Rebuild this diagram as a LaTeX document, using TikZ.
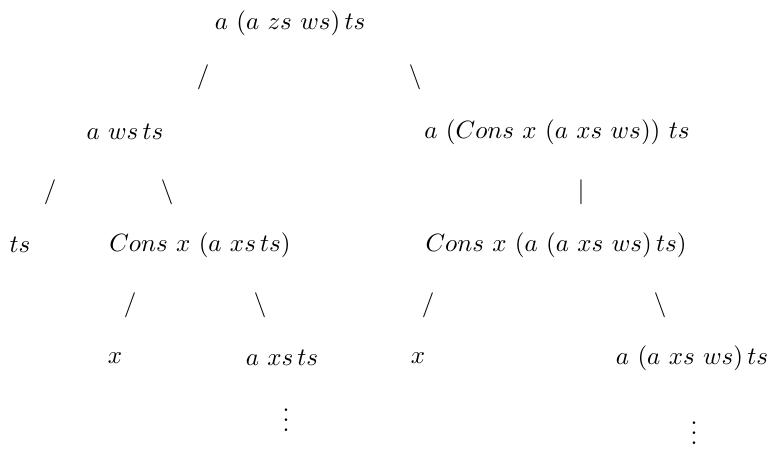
\documentclass[tikz,border=0pt]{standalone}
\begin{document}
\begin{tikzpicture}
  [x=0.4pt,y=-0.4pt,every node/.style={inner sep=0pt}]
\useasboundingbox (0,0) rectangle (767,448);
  \node (r)   at (290,23)  {$a\ (a\ zs\ ws)\,ts$};
  \node (l)   at (125,132) {$a\ ws\,ts$};
  \node (rr)  at (557,132) {$a\ (Cons\ x\ (a\ xs\ ws))\ ts$};
  \node (ll)  at (20,245)  {$ts$};
  \node (lr)  at (200,245) {$Cons\ x\ (a\ xs\,ts)$};
  \node (rc)  at (556,245) {$Cons\ x\ (a\ (a\ xs\ ws)\,ts)$};
  \node (lrl) at (115,358) {$x$};
  \node (lrr) at (282,358) {$a\ xs\,ts$};
  \node (rcl) at (418,358) {$x$};
  \node (rcr) at (692,358) {$a\ (a\ xs\ ws)\,ts$};
  \node (d1)  at (286,413) {$\vdots$};
  \node (d2)  at (694,426) {$\vdots$};

  % the branches are set as glyphs
  \foreach \x/\y/\s in {203/77/{/}, 415/77/\backslash, 50/192/{/}, 167/192/\backslash,
                        581/192/|, 130/305/{/}, 260/305/\backslash, 428/305/{/}, 660/305/\backslash}
    \node at (\x,\y) {$\s$};
\end{tikzpicture}
\end{document}
